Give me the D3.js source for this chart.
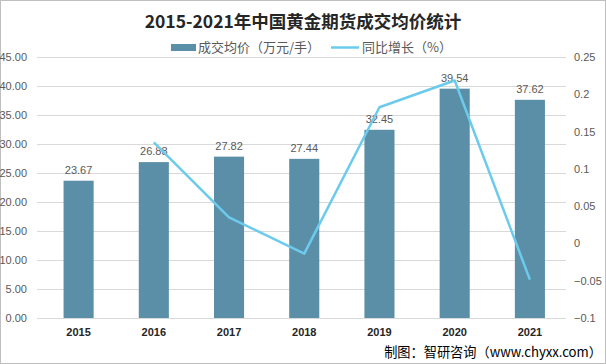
<!DOCTYPE html>
<html><head><meta charset="utf-8">
<script src="https://cdn.jsdelivr.net/npm/d3@7"></script>
<style>body{margin:0;background:#fff}svg{display:block}</style>
</head><body>
<svg id="c" width="606" height="364"></svg>
<script>
const years = ["2015","2016","2017","2018","2019","2020","2021"];
const prices = [23.67,26.88,27.82,27.44,32.45,39.54,37.62];
const growth = [null,0.1356,0.035,-0.0137,0.1826,0.2185,-0.0486];
const leftTicks = [0,5,10,15,20,25,30,35,40,45];
const rightTicks = [-0.1,-0.05,0,0.05,0.1,0.15,0.2,0.25];
const title = "2015-2021年中国黄金期货成交均价统计";
const legendBar = "成交均价（万元/手）";
const legendLine = "同比增长（%）";
const source = "制图：智研咨询（www.chyxx.com）";

const svg = d3.select("#c");
const font = "'Noto Sans CJK SC','Microsoft YaHei',sans-serif";
svg.append("rect").attr("x",0.5).attr("y",0.5).attr("width",605).attr("height",363).attr("fill","#fff").attr("stroke","#bfbfbf");

const x = d3.scaleBand().domain(years).range([41,567.5]).paddingInner(0.6).paddingOuter(0.3);
const y = d3.scaleLinear().domain([0,45]).range([318,57]);
const y2 = d3.scaleLinear().domain([-0.1,0.25]).range([318,57]);

// grid
svg.append("g").selectAll("line").data(leftTicks).join("line")
  .attr("x1",37).attr("x2",566).attr("y1",d=>y(d)+0.5).attr("y2",d=>y(d)+0.5)
  .attr("stroke","#d9d9d9").attr("stroke-width",1);

// left axis labels
const la = svg.append("g").attr("transform","translate(27,0)")
  .call(d3.axisLeft(y).tickValues(leftTicks).tickFormat(d3.format(".2f")).tickSize(0).tickPadding(0));
la.select(".domain").remove();
la.selectAll("text").attr("fill","#595959").style("font-family","'Liberation Sans',Arial,sans-serif").style("font-size","11px");

// right axis labels
const ra = svg.append("g").attr("transform","translate(574,0)")
  .call(d3.axisRight(y2).tickValues(rightTicks).tickFormat(d=>d3.format("")(+d.toFixed(2))).tickSize(0).tickPadding(0));
ra.select(".domain").remove();
ra.selectAll("text").attr("fill","#595959").style("font-family","'Liberation Sans',Arial,sans-serif").style("font-size","11px");

// bars
svg.append("g").selectAll("rect").data(prices).join("rect")
  .attr("x",(d,i)=>x(years[i])).attr("width",x.bandwidth())
  .attr("y",d=>y(d)).attr("height",d=>y(0)-y(d)).attr("fill","#5b8fa8");

// bar labels
svg.append("g").selectAll("text").data(prices).join("text")
  .attr("x",(d,i)=>x(years[i])+x.bandwidth()/2).attr("y",d=>y(d)-7)
  .attr("text-anchor","middle").attr("fill","#595959")
  .style("font-family","'Liberation Sans',Arial,sans-serif").style("font-size","11px")
  .text(d=>d.toFixed(2));

// line
const pts = growth.map((g,i)=>({g,yr:years[i]})).filter(d=>d.g!==null);
svg.append("path").datum(pts)
  .attr("d",d3.line().x(d=>x(d.yr)+x.bandwidth()/2).y(d=>y2(d.g)))
  .attr("fill","none").attr("stroke","#6ccbec").attr("stroke-width",2.5).attr("stroke-linejoin","round");

// x labels
const xa = svg.append("g").attr("transform","translate(0,328)")
  .call(d3.axisBottom(x).tickSize(0).tickPadding(0));
xa.select(".domain").remove();
xa.selectAll("text").attr("fill","#262626").style("font-family","'Liberation Sans',Arial,sans-serif").style("font-size","11px").style("font-weight","bold");

// title
svg.append("text").attr("x",303).attr("y",28).attr("text-anchor","middle")
  .attr("fill","#262626").style("font-family",font).style("font-size","17.5px").style("font-weight","bold").text(title);

// legend
svg.append("rect").attr("x",171).attr("y",44).attr("width",25).attr("height",7).attr("fill","#5b8fa8");
svg.append("text").attr("x",198).attr("y",52).attr("fill","#595959").style("font-family",font).style("font-size","13px").text(legendBar);
svg.append("line").attr("x1",331).attr("x2",359).attr("y1",47.5).attr("y2",47.5).attr("stroke","#6ccbec").attr("stroke-width",2.5);
svg.append("text").attr("x",362).attr("y",52).attr("fill","#595959").style("font-family",font).style("font-size","13px").text(legendLine);

// source
svg.append("text").attr("x",602).attr("y",357).attr("text-anchor","end").attr("fill","#000")
  .style("font-family",font).style("font-size","13.2px").text(source);
</script>
</body></html>
